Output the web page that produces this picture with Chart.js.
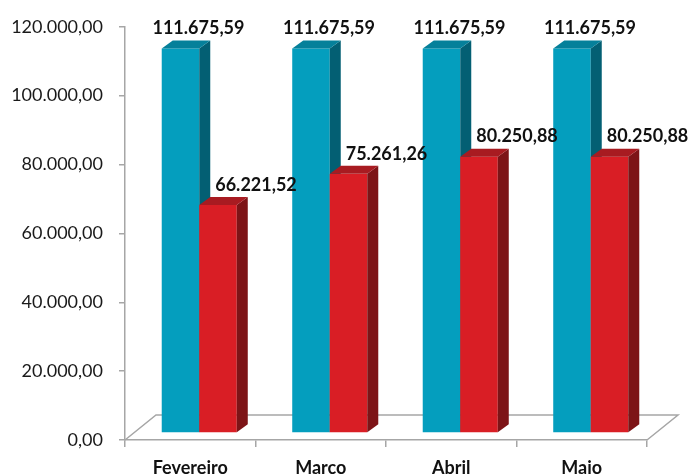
<!DOCTYPE html>
<html>
<head>
<meta charset="utf-8">
<script src="https://cdn.jsdelivr.net/npm/chart.js@4.4.1/dist/chart.umd.min.js"></script>
<style>
  html, body { margin: 0; padding: 0; background: #fff; }
  #wrap { width: 700px; height: 475px; position: relative; }
</style>
</head>
<body>
<div id="wrap"><canvas id="chart"></canvas></div>
<script>
/* ── data ── */
const MONTHS      = ["Fevereiro", "Marco", "Abril", "Maio"];
const SERIES_A    = [111675.59, 111675.59, 111675.59, 111675.59];
const SERIES_B    = [66221.52, 75261.26, 80250.88, 80250.88];
const Y_MAX       = 120000;
const Y_STEP      = 20000;

/* ── palette ── */
const BLUE = { front: "#049ebe", side: "#035f73", top: "#05809a" };
const RED  = { front: "#d91e25", side: "#7d1417", top: "#a81b21" };
const AXIS = "#a6a6a6";

/* ── 3d look ── */
const SHIFT_X = 9, SHIFT_Y = -7;     // bars stand mid-floor
const DEPTH_X = 11, DEPTH_Y = -8;    // bar depth
const FLOOR_X = 31, FLOOR_Y = -25;   // floor depth

function fmtBR(v, dec) {
  return v.toLocaleString("pt-BR", { minimumFractionDigits: dec, maximumFractionDigits: dec });
}

// chart.js draws the flat fronts; the plugin repaints every box (front, side, top)
// in dataset order so the red bar sits in front of the blue bar's side face
const bar3d = {
  id: "bar3d",
  beforeDatasetsDraw(chart) {
    const { ctx, chartArea: a } = chart;
    ctx.save();
    ctx.strokeStyle = AXIS;
    ctx.lineWidth = 1.5;
    ctx.beginPath();
    ctx.moveTo(a.left, a.bottom);
    ctx.lineTo(a.left + FLOOR_X, a.bottom + FLOOR_Y);
    ctx.lineTo(a.right + FLOOR_X, a.bottom + FLOOR_Y);
    ctx.lineTo(a.right, a.bottom);
    ctx.stroke();
    ctx.restore();
  },
  beforeDatasetDraw() {
    return false; // skip default flat bars
  },
  afterDatasetsDraw(chart) {
    const ctx = chart.ctx;
    ctx.save();
    ctx.translate(SHIFT_X, SHIFT_Y);
    chart.data.datasets.forEach((ds, i) => {
      const pal = ds.faces;
      chart.getDatasetMeta(i).data.forEach(el => {
        const { x, y, base, width } = el.getProps(["x", "y", "base", "width"], true);
        const l = x - width / 2, r = x + width / 2;
        ctx.fillStyle = pal.front;
        ctx.fillRect(l, y, width, base - y);
        ctx.fillStyle = pal.side;
        ctx.beginPath();
        ctx.moveTo(r, y);
        ctx.lineTo(r + DEPTH_X, y + DEPTH_Y);
        ctx.lineTo(r + DEPTH_X, base + DEPTH_Y);
        ctx.lineTo(r, base);
        ctx.closePath();
        ctx.fill();
        ctx.fillStyle = pal.top;
        ctx.beginPath();
        ctx.moveTo(l, y);
        ctx.lineTo(l + DEPTH_X, y + DEPTH_Y);
        ctx.lineTo(r + DEPTH_X, y + DEPTH_Y);
        ctx.lineTo(r, y);
        ctx.closePath();
        ctx.fill();
      });
    });
    ctx.restore();

    // value labels
    ctx.save();
    ctx.font = "bold 18px Lato";
    ctx.fillStyle = "#111";
    ctx.textAlign = "center";
    ctx.textBaseline = "middle";
    chart.data.datasets.forEach((ds, i) => {
      chart.getDatasetMeta(i).data.forEach((el, j) => {
        const tx = el.x + SHIFT_X + ds.labelDx;
        const ty = el.y + SHIFT_Y + DEPTH_Y - 12;
        ctx.fillText(fmtBR(ds.data[j], 2), tx, ty);
      });
    });
    ctx.restore();
  },
};

Chart.defaults.font.family = "Lato, 'Open Sans', sans-serif";
Chart.defaults.color = "#1a1a1a";

new Chart(document.getElementById("chart"), {
  type: "bar",
  data: {
    labels: MONTHS,
    datasets: [
      { data: SERIES_A, backgroundColor: BLUE.front, faces: BLUE, labelDx: 18,
        barPercentage: 1, categoryPercentage: 0.575 },
      { data: SERIES_B, backgroundColor: RED.front, faces: RED, labelDx: 38,
        barPercentage: 1, categoryPercentage: 0.575 },
    ],
  },
  options: {
    responsive: true,
    maintainAspectRatio: false,
    animation: false,
    layout: { padding: { top: 25, right: 53, left: 0, bottom: 0 } },
    plugins: { legend: { display: false }, tooltip: { enabled: false } },
    scales: {
      x: {
        grid: { drawOnChartArea: false, color: AXIS, tickLength: 7, lineWidth: 1.5, offset: true },
        border: { color: AXIS, width: 1.5 },
        ticks: { font: { size: 18, weight: "bold" }, color: "#111", padding: 10 },
        afterFit: s => { s.height = 35; },
      },
      y: {
        min: 0,
        max: Y_MAX,
        grid: { drawOnChartArea: false, color: AXIS, tickLength: 6, lineWidth: 1.5 },
        border: { color: AXIS, width: 1.5 },
        ticks: {
          stepSize: Y_STEP,
          padding: 16,
          font: { size: 18 },
          color: "#1a1a1a",
          callback: v => fmtBR(v, 2),
        },
        afterFit: s => { s.width = 125; },
      },
    },
  },
  plugins: [bar3d],
});
</script>
</body>
</html>
